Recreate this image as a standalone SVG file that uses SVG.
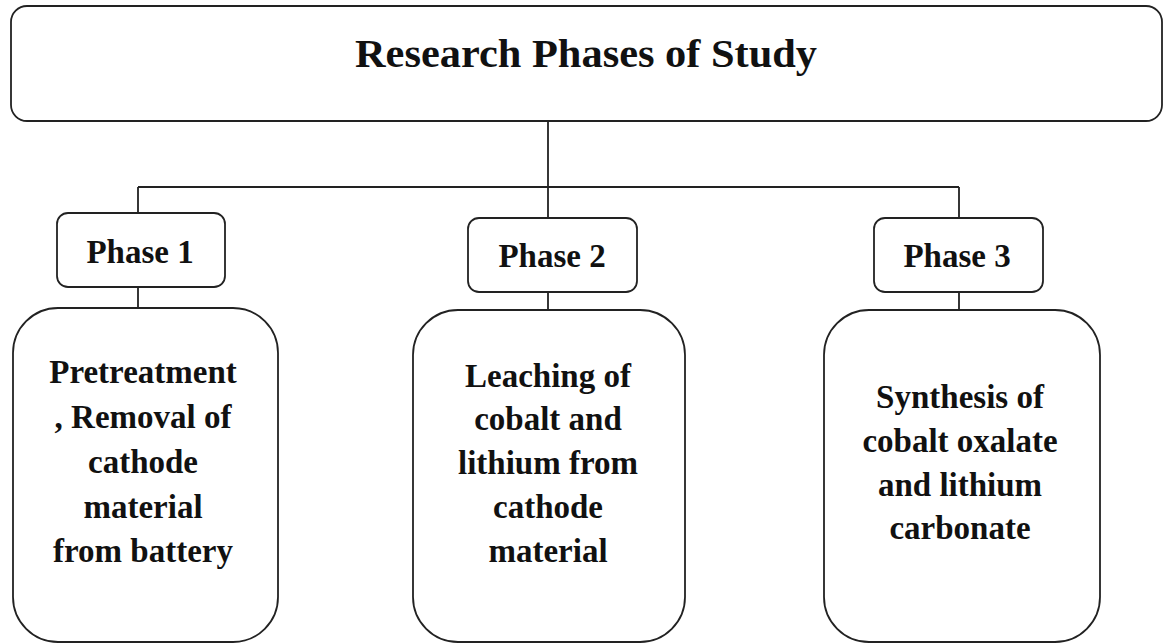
<svg xmlns="http://www.w3.org/2000/svg" width="1165" height="644" viewBox="0 0 1165 644">
<style>
.box{fill:#fff;stroke:#222;stroke-width:1.8}
.ln{stroke:#222;stroke-width:1.8;fill:none}
text{font-family:"Liberation Serif","Times New Roman",serif;font-weight:bold;fill:#111;text-anchor:middle}
.t{font-size:40px}
.p{font-size:33px}
.b{font-size:33px}
</style>
<rect x="0" y="0" width="1165" height="644" fill="#fff"/>
<g id="connectors">
<path class="ln" d="M548,121 V187 M138,187 H959 M138,187 V213 M548,187 V218 M959,187 V218 M138,287 V308 M548,292 V310 M959,292 V310"/>
</g>
<g id="title">
<rect class="box" x="11" y="6" width="1151" height="115" rx="16"/>
<text class="t" x="586" y="67" textLength="462" lengthAdjust="spacingAndGlyphs">Research Phases of Study</text>
</g>
<g id="phase1">
<rect class="box" x="57" y="213" width="168" height="74" rx="11"/>
<text class="p" x="140" y="263">Phase 1</text>
</g>
<g id="phase2">
<rect class="box" x="468" y="218" width="169" height="74" rx="11"/>
<text class="p" x="552" y="267">Phase 2</text>
</g>
<g id="phase3">
<rect class="box" x="874" y="218" width="169" height="74" rx="11"/>
<text class="p" x="957" y="267">Phase 3</text>
</g>
<g id="detail1">
<rect class="box" x="13" y="308" width="265" height="334" rx="45"/>
<text class="b" x="143"><tspan x="143" y="383">Pretreatment</tspan><tspan x="143" y="428">, Removal of</tspan><tspan x="143" y="473">cathode</tspan><tspan x="143" y="518">material</tspan><tspan x="143" y="562">from battery</tspan></text>
</g>
<g id="detail2">
<rect class="box" x="413" y="310" width="272" height="332" rx="45"/>
<text class="b" x="548"><tspan x="548" y="387">Leaching of</tspan><tspan x="548" y="430">cobalt and</tspan><tspan x="548" y="474">lithium from</tspan><tspan x="548" y="518">cathode</tspan><tspan x="548" y="562">material</tspan></text>
</g>
<g id="detail3">
<rect class="box" x="824" y="310" width="276" height="332" rx="45"/>
<text class="b" x="960"><tspan x="960" y="408">Synthesis of</tspan><tspan x="960" y="452">cobalt oxalate</tspan><tspan x="960" y="496">and lithium</tspan><tspan x="960" y="539">carbonate</tspan></text>
</g>
</svg>
